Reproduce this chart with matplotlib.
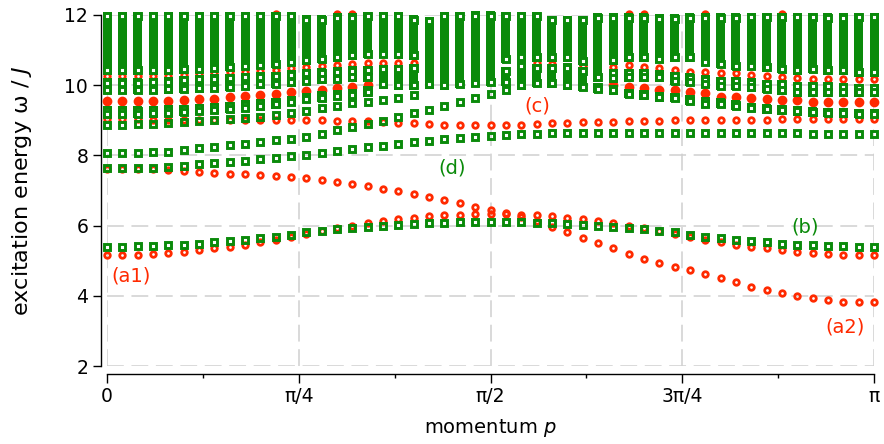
import numpy as np
import matplotlib
matplotlib.use("Agg")
import matplotlib.pyplot as plt
from matplotlib.ticker import FixedLocator

nan = np.nan

# ---------------- data (momentum index k -> p = k*pi/50) ----------------
momentum_index = np.arange(51)

# top green block of the continuum (upper / lower centre of the block)
band_a_hi = [11.96, 11.96, 11.96, 11.96, 11.96, 11.96, 11.96, 11.96, 11.96, 11.96,
             11.96, 11.96, 11.96, 11.87, 11.87, 11.92, 11.92, 11.96, 11.96, 11.96,
             11.87, 11.82, 11.96, 11.96, 11.98, 11.98, 11.96, 11.96, 11.96, 11.85,
             11.85, 11.85, 11.92, 11.92, 11.92, 11.92, 11.90, 11.90, 11.92, 11.92,
             11.92, 11.92, 11.94, 11.94, 11.94, 11.94, 11.94, 11.92, 11.92, 11.94,
             11.94]
band_a_lo = [10.42, 10.42, 10.42, 10.42, 10.43, 10.45, 10.47, 10.50, 10.53, 10.56,
             10.58, 10.61, 10.66, 10.71, 10.76, 10.80, 10.85, 10.90, 10.90, 10.88,
             10.85, 10.02, 10.00, 10.04, 10.06, 10.10, 10.75, 10.80, 10.80, 10.80,
             10.80, 10.70, 10.23, 10.71, 10.80, 10.80, 10.75, 10.80, 10.80, 10.66,
             10.61, 10.56, 10.56, 10.51, 10.47, 10.42, 10.47, 10.42, 10.42, 10.37,
             10.37]
# red level showing in the gap below the top block
red_stripe = [10.26, 10.26, 10.26, 10.26, 10.27, 10.29, 10.32, 10.35, 10.37, 10.39,
              10.41, 10.44, 10.48, 10.52, 10.54, 10.57, 10.60, 10.62, 10.63, 10.63,
              10.62, nan, nan, nan, nan, nan, nan, nan, 10.63, 10.60,
              nan, 10.55, nan, 10.53, 10.58, 10.53, 10.48, 10.43, 10.38, 10.38,
              10.34, 10.34, 10.29, 10.26, 10.24, 10.21, 10.19, 10.19, 10.19, 10.18,
              10.17]
# second green block
band_b_hi = [10.07, 10.07, 10.07, 10.08, 10.10, 10.14, 10.17, 10.19, 10.20, 10.22,
             10.24, 10.26, 10.30, 10.34, 10.36, 10.39, 10.41, 10.42, 10.45, 10.45,
             10.48, nan, nan, nan, nan, nan, 10.40, 10.55, 10.49, 10.48,
             10.50, 10.40, 9.95, 10.35, 10.35, 10.35, 10.30, 10.25, 10.21, 10.16,
             10.11, 10.11, 10.07, 10.02, 10.02, 9.97, 9.97, 9.97, 9.95, 9.92,
             9.92]
band_b_lo = [9.87, 9.87, 9.87, 9.87, 9.88, 9.90, 9.91, 9.93, 9.96, 9.99,
             10.02, 10.04, 10.08, 10.13, 10.17, 10.19, 10.22, 10.23, 10.02, 10.00,
             10.00, nan, nan, nan, nan, nan, 10.09, 10.00, 10.06, 10.05,
             10.00, 9.96, 9.90, 10.20, 10.23, 10.23, 10.23, 10.13, 10.09, 10.04,
             9.99, 9.99, 9.94, 9.90, 9.85, 9.80, 9.80, 9.80, 9.80, 9.80,
             9.80]
# red cluster below the second block
red_cluster = [9.55, 9.55, 9.55, 9.56, 9.56, 9.57, 9.60, 9.62, 9.66, 9.70,
               9.72, 9.76, 9.80, 9.83, 9.87, 9.91, 9.96, 10.00, nan, nan,
               nan, nan, nan, nan, nan, nan, nan, nan, nan, nan,
               nan, nan, nan, 10.00, 9.96, 9.91, 9.86, 9.86, 9.82, 9.77,
               9.67, 9.67, 9.64, 9.60, 9.58, 9.58, 9.53, 9.53, 9.53, 9.53,
               9.53]
# third green block
band_c_hi = [9.27, 9.27, 9.27, 9.28, 9.30, 9.32, 9.34, 9.38, 9.40, 9.44,
             9.48, 9.52, 9.58, 9.66, 9.70, 9.74, 9.77, 9.86, nan, nan,
             nan, nan, nan, nan, nan, nan, nan, nan, nan, nan,
             nan, nan, nan, 9.87, 9.78, 9.75, 9.68, 9.66, 9.60, 9.54,
             9.50, 9.45, 9.38, 9.33, 9.31, 9.28, 9.25, 9.23, 9.22, 9.21,
             9.20]
band_c_lo = [9.18, 9.18, 9.19, 9.20, 9.22, 9.25, 9.27, 9.30, 9.32, 9.36,
             9.40, 9.46, 9.52, 9.62, 9.64, 9.70, 9.72, 9.80, nan, nan,
             nan, nan, nan, nan, nan, nan, nan, nan, nan, nan,
             nan, nan, nan, 9.85, 9.76, 9.71, 9.66, 9.64, 9.55, 9.47,
             9.47, 9.42, 9.35, 9.31, 9.29, 9.26, 9.23, 9.21, 9.20, 9.19,
             9.18]
# red levels just above the top of the window
red_top = [nan, nan, nan, nan, nan, nan, nan, nan, nan, nan,
           nan, 12.03, nan, nan, nan, 12.04, 12.04, nan, nan, nan,
           nan, nan, nan, nan, nan, nan, nan, nan, nan, nan,
           nan, nan, nan, nan, 12.04, 12.04, nan, nan, nan, 12.03,
           nan, nan, nan, nan, 12.04, nan, nan, nan, nan, nan,
           nan]

# isolated branches
green_f = [8.88, 8.88, 8.89, 8.90, 8.92, 8.94, 8.97, 9.00, 9.03, 9.06,
           9.10, 9.15, 9.20, 9.27, 9.35, 9.42, 9.48, 9.53, 9.58, 9.64,
           9.72, nan, nan, nan, nan, nan, nan, nan, nan, nan,
           nan, nan, nan, nan, nan, nan, nan, nan, nan, nan,
           nan, nan, nan, nan, nan, nan, nan, nan, nan, nan,
           nan]
red_c = [9.04, 9.03, 9.03, 9.02, 9.02, 9.02, 9.01, 9.01, 9.01, 9.00,
         9.00, 9.00, 9.00, 9.00, 9.00, 8.99, 8.98, 8.97, 8.96, 8.93,
         8.91, 8.90, 8.88, 8.88, 8.87, 8.87, 8.87, 8.88, 8.90, 8.91,
         8.93, 8.94, 8.95, 8.96, 8.97, 8.98, 8.99, 9.00, 9.01, 9.02,
         9.02, 9.02, 9.02, 9.02, 9.03, 9.03, 9.03, 9.03, 9.03, 9.03,
         9.03]
green_e = [8.07, 8.07, 8.08, 8.10, 8.11, 8.15, 8.20, 8.25, 8.30, 8.32,
           8.38, 8.44, 8.47, 8.53, 8.61, 8.71, 8.81, 8.90, 8.98, 9.09,
           9.20, 9.29, 9.41, 9.52, 9.63, 9.75, 9.86, nan, nan, nan,
           nan, nan, nan, nan, nan, nan, nan, nan, nan, nan,
           nan, nan, nan, nan, nan, nan, nan, nan, nan, nan,
           nan]
green_d = [7.64, 7.64, 7.64, 7.65, 7.67, 7.70, 7.75, 7.78, 7.81, 7.84,
           7.90, 7.93, 7.97, 8.02, 8.07, 8.12, 8.17, 8.24, 8.27, 8.32,
           8.38, 8.41, 8.47, 8.50, 8.52, 8.55, 8.58, 8.61, 8.62, 8.63,
           8.64, 8.65, 8.65, 8.65, 8.65, 8.65, 8.65, 8.65, 8.65, 8.65,
           8.65, 8.64, 8.64, 8.64, 8.64, 8.64, 8.62, 8.62, 8.61, 8.61,
           8.60]
red_a2 = [7.62, 7.62, 7.61, 7.60, 7.58, 7.56, 7.53, 7.50, 7.48, 7.46,
          7.44, 7.42, 7.39, 7.36, 7.30, 7.24, 7.18, 7.12, 7.05, 6.98,
          6.91, 6.82, 6.73, 6.64, 6.54, 6.44, 6.35, 6.25, 6.12, 5.95,
          5.82, 5.66, 5.50, 5.35, 5.20, 5.06, 4.93, 4.82, 4.73, 4.62,
          4.51, 4.39, 4.25, 4.17, 4.08, 4.00, 3.94, 3.88, 3.83, 3.82,
          3.82]
green_b = [5.40, 5.40, 5.41, 5.42, 5.44, 5.46, 5.49, 5.52, 5.56, 5.60,
           5.64, 5.68, 5.73, 5.81, 5.85, 5.89, 5.93, 5.97, 6.00, 6.03,
           6.05, 6.07, 6.08, 6.09, 6.10, 6.10, 6.10, 6.09, 6.08, 6.07,
           6.05, 6.03, 6.00, 5.97, 5.93, 5.89, 5.85, 5.81, 5.73, 5.68,
           5.64, 5.60, 5.56, 5.52, 5.49, 5.46, 5.44, 5.42, 5.41, 5.40,
           5.40]
red_a1 = [5.15, 5.15, 5.17, 5.19, 5.22, 5.26, 5.30, 5.35, 5.40, 5.46,
          5.52, 5.59, 5.67, 5.76, 5.85, 5.93, 6.00, 6.07, 6.13, 6.18,
          6.22, 6.26, 6.29, 6.31, 6.33, 6.34, 6.33, 6.31, 6.29, 6.26,
          6.22, 6.18, 6.13, 6.07, 6.00, 5.93, 5.85, 5.76, 5.67, 5.59,
          5.52, 5.46, 5.40, 5.35, 5.30, 5.26, 5.22, 5.19, 5.17, 5.15,
          5.15]

x_tick_values = [0, np.pi / 4, np.pi / 2, 3 * np.pi / 4, np.pi]
x_tick_labels = ["0", "π/4", "π/2", "3π/4", "π"]
y_tick_values = [2, 4, 6, 8, 10, 12]

annotations = [("(a1)", 0.098, 4.56, "red"), ("(a2)", 3.023, 3.11, "red"),
               ("(b)", 2.859, 5.96, "green"), ("(c)", 1.761, 9.40, "red"),
               ("(d)", 1.413, 7.64, "green")]

# ---------------- drawing ----------------
p = momentum_index * np.pi / 50
RED = "#ff2a00"
GREEN = "#0a8a0a"
COLORS = {"red": RED, "green": GREEN}

W, H = 884, 444
fig = plt.figure(figsize=(W / 100, H / 100), dpi=100)
x0, x1, y0, y1 = 107, 874, 366, 15
ax = fig.add_axes([x0 / W, 1 - y0 / H, (x1 - x0) / W, (y0 - y1) / H])
ax.set_xlim(0, np.pi)
ax.set_ylim(2, 12)

px_x = np.pi / (x1 - x0)      # data units per pixel
px_y = 10.0 / (y0 - y1)

sq = dict(ls="none", marker="s", ms=4.3, mew=2.1, mec=GREEN, clip_on=False)
ci = dict(ls="none", marker="o", ms=4.0, mew=2.0, mec=RED, clip_on=False)

# red levels (drawn underneath)
ax.plot(p, red_top, mfc="none", zorder=3, **ci)
ax.plot(p, red_stripe, mfc="none", zorder=3, **ci)
ax.plot(p, red_cluster, mfc=RED, zorder=3, **dict(ci, ms=5.0))
ax.plot(p, red_c, mfc="none", zorder=3, **ci)
ax.plot(p, red_a2, mfc="none", zorder=3, **ci)
ax.plot(p, red_a1, mfc="none", zorder=3, **ci)

# green continuum blocks
half = 4.4 * px_y
bw = 9.0 * px_x
for hi, lo in [(band_a_hi, band_a_lo), (band_b_hi, band_b_lo), (band_c_hi, band_c_lo)]:
    hi = np.asarray(hi, float)
    lo = np.asarray(lo, float)
    ok = ~np.isnan(hi)
    ax.bar(p[ok], (hi - lo)[ok] + 2 * half, bottom=lo[ok] - half, width=bw,
           color=GREEN, linewidth=0, zorder=4, clip_on=False)
    ax.plot(p, hi, mfc="white", zorder=5, **sq)
    ax.plot(p, lo, mfc="white", zorder=5, **sq)

# green branches
for g in (green_f, green_e, green_d, green_b):
    ax.plot(p, g, mfc="none", zorder=5, **sq)

# axes styling
for s in ("top", "right"):
    ax.spines[s].set_visible(False)
ax.spines["left"].set_position(("outward", 4.5))
ax.spines["bottom"].set_position(("outward", 5.8))
ax.spines["left"].set_bounds(2, 12)
ax.spines["bottom"].set_bounds(0, np.pi)
for s in ("left", "bottom"):
    ax.spines[s].set_linewidth(1.0)

ax.xaxis.set_major_locator(FixedLocator(x_tick_values))
ax.xaxis.set_minor_locator(FixedLocator([np.pi / 8 * i for i in (1, 3, 5, 7)]))
ax.set_xticklabels(x_tick_labels)
ax.yaxis.set_major_locator(FixedLocator(y_tick_values))
ax.tick_params(axis="x", which="major", length=6.5, width=1.0, pad=2.5, labelsize=13.5)
ax.tick_params(axis="x", which="minor", length=3, width=1.0)
ax.tick_params(axis="y", which="major", length=6, width=1.0, pad=3.0, labelsize=13.5)

ax.grid(True, which="major", color="#d0d0d0", lw=1.1, ls=(0, (11, 5)), zorder=0)

ax.set_xlabel(r"momentum $p$", fontsize=14)
ax.set_ylabel(r"excitation energy ω / $J$", fontsize=16)
ax.xaxis.label.set_va("center")
ax.yaxis.label.set_va("center")
ax.xaxis.set_label_coords(0.5, (y0 - 428) / (y0 - y1))
ax.yaxis.set_label_coords((22 - x0) / (x1 - x0), 0.5)

for txt, xa, ya, c in annotations:
    ax.text(xa, ya, txt, color=COLORS[c], fontsize=14, ha="center", va="center", zorder=6)

fig.savefig("out.png", dpi=100)
